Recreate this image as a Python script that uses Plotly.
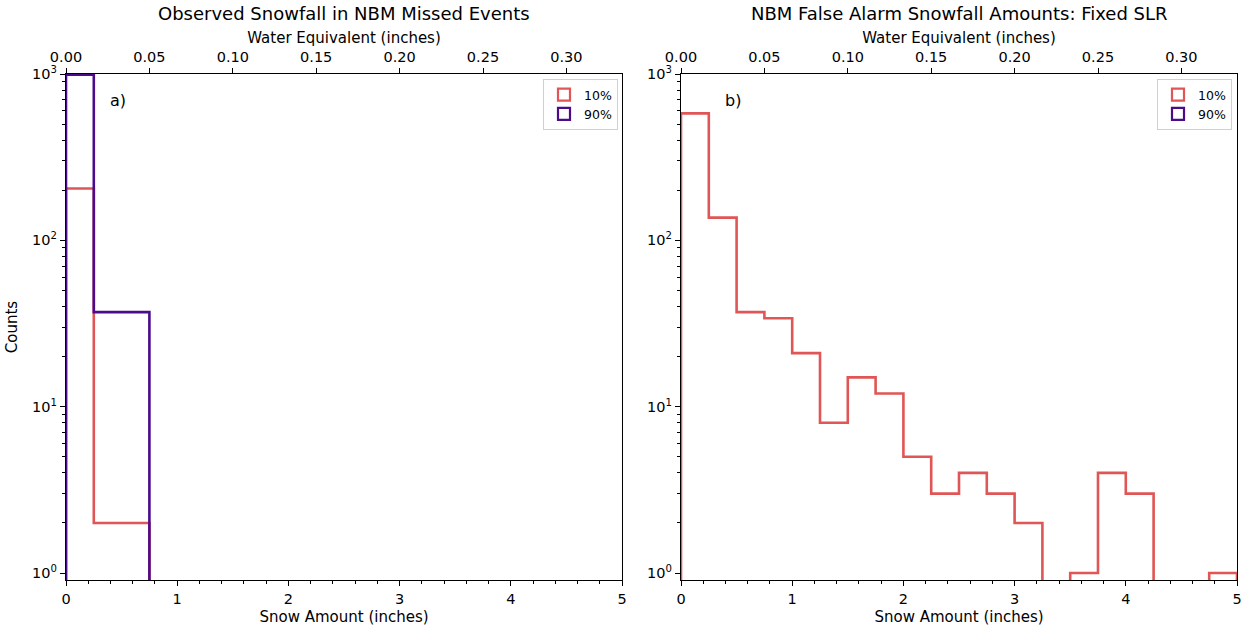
import numpy as np
import plotly.graph_objects as go

# ---- data ----
bin_edges = [0.0, 0.25, 0.5, 0.75, 1.0, 1.25, 1.5, 1.75, 2.0, 2.25, 2.5,
             2.75, 3.0, 3.25, 3.5, 3.75, 4.0, 4.25, 4.5, 4.75, 5.0]
missed_10 = [205, 2, 2, 0, 0, 0, 0, 0, 0, 0, 0, 0, 0, 0, 0, 0, 0, 0, 0, 0]
missed_90 = [990, 37, 37, 0, 0, 0, 0, 0, 0, 0, 0, 0, 0, 0, 0, 0, 0, 0, 0, 0]
false_10 = [580, 137, 37, 34, 21, 8, 15, 12, 5, 3, 4, 3, 2, 0, 1, 4, 3, 0, 0, 1]
false_90 = [0] * 20
series_names = ["10%", "90%"]
slr = 15.0
snow_ticks = [0, 1, 2, 3, 4, 5]
swe_ticks = [0.00, 0.05, 0.10, 0.15, 0.20, 0.25, 0.30]
count_ticks = [1, 10, 100, 1000]
titles = ["Observed Snowfall in NBM Missed Events",
          "NBM False Alarm Snowfall Amounts: Fixed SLR"]
panel_tags = ["a)", "b)"]

RED = "#e05555"
PURPLE = "#4b0c8c"
FONT = "DejaVu Sans"
FLOOR = 0.05  # zero counts drop below the visible axis


def step_xy(edges, counts):
    xs, ys = [edges[0]], [FLOOR]
    for i, c in enumerate(counts):
        v = c if c > 0 else FLOOR
        xs += [edges[i], edges[i + 1]]
        ys += [v, v]
    xs.append(edges[-1])
    ys.append(FLOOR)
    return xs, ys


fig = go.Figure()

panels = [
    dict(data=[missed_10, missed_90], xa="x", ya="y", legend="legend"),
    dict(data=[false_10, false_90], xa="x2", ya="y2", legend="legend2"),
]
colors = [RED, PURPLE]

for p in panels:
    for k, counts in enumerate(p["data"]):
        xs, ys = step_xy(bin_edges, counts)
        fig.add_trace(go.Scatter(x=xs, y=ys, mode="lines", xaxis=p["xa"], yaxis=p["ya"],
                                 line=dict(color=colors[k], width=2.6, shape="linear"),
                                 showlegend=False, hoverinfo="skip"))
    for k, name in enumerate(series_names):
        fig.add_trace(go.Bar(x=[None], y=[None], name=name, xaxis=p["xa"], yaxis=p["ya"],
                             marker=dict(color="white", line=dict(color=colors[k], width=2.2)),
                             legend=p["legend"], showlegend=True))

ydom = [1 - 580 / 633, 1 - 74 / 633]
xdoms = [[66 / 1250, 622 / 1250], [681 / 1250, 1237 / 1250]]

TICKFONT = dict(family=FONT, size=14.5, color="black")
TITLEFONT = dict(family=FONT, size=15, color="black")

axis_common = dict(showline=True, linecolor="black", linewidth=1.2, ticks="outside",
                   ticklen=5, tickcolor="black", showgrid=False, zeroline=False,
                   automargin=False, tickfont=TICKFONT)

ylog = dict(axis_common, type="log", range=[np.log10(0.908), 3], mirror=True,
            tickvals=count_ticks,
            ticktext=["10<sup>%d</sup>" % int(np.log10(v)) for v in count_ticks],
            minor=dict(ticks="outside", ticklen=3, tickcolor="black", dtick="D1", showgrid=False))

for i, dom in enumerate(xdoms):
    sfx = "" if i == 0 else "2"
    top_sfx = str(i + 3)
    fig.update_layout(**{
        "xaxis" + sfx: dict(axis_common, domain=dom, range=[0, 5], mirror=True,
                            anchor="y" + sfx, tickvals=snow_ticks,
                            ticktext=[str(t) for t in snow_ticks],
                            minor=dict(ticks="outside", ticklen=3, tickcolor="black",
                                       dtick=0.2, showgrid=False),
                            title=dict(text="Snow Amount (inches)", standoff=5,
                                       font=TITLEFONT)),
        "xaxis" + top_sfx: dict(axis_common, overlaying="x" + sfx, side="top",
                                anchor="y" + sfx, range=[0, 5 / slr],
                                tickvals=swe_ticks,
                                ticktext=["%.2f" % t for t in swe_ticks],
                                title=dict(text="Water Equivalent (inches)", standoff=1,
                                           font=TITLEFONT)),
        "yaxis" + sfx: dict(ylog, domain=ydom, anchor="x" + sfx),
    })
    fig.add_trace(go.Scatter(x=[0, 5 / slr], y=[None, None], xaxis="x" + top_sfx,
                             yaxis="y" + sfx, mode="lines",
                             showlegend=False, hoverinfo="skip"))

fig.update_layout(yaxis=dict(title=dict(text="Counts", standoff=10, font=TITLEFONT)))

for i, dom in enumerate(xdoms):
    fig.add_annotation(text=titles[i], xref="paper", yref="paper",
                       x=(dom[0] + dom[1]) / 2, y=1 - 1 / 633, xanchor="center", yanchor="top",
                       showarrow=False, font=dict(family=FONT, size=18, color="black"))
    fig.add_annotation(text=panel_tags[i], xref="paper", yref="paper",
                       x=dom[0] + 42 / 1250, y=1 - 100 / 633, xanchor="left", yanchor="middle",
                       showarrow=False, font=dict(family=FONT, size=16, color="black"))

legend_style = dict(bgcolor="rgba(255,255,255,0.8)", bordercolor="#d0d0d0", borderwidth=1,
                    font=dict(family=FONT, size=12.5, color="black"), xanchor="right",
                    yanchor="top", tracegroupgap=0, itemwidth=30)
fig.update_layout(
    legend=dict(legend_style, x=618 / 1250, y=1 - 79 / 633),
    legend2=dict(legend_style, x=1232 / 1250, y=1 - 79 / 633),
    width=1250, height=633, margin=dict(l=0, r=0, t=0, b=0),
    paper_bgcolor="white", plot_bgcolor="white",
    font=dict(family=FONT, color="black"), barmode="overlay",
)

fig.write_html("out.html")
